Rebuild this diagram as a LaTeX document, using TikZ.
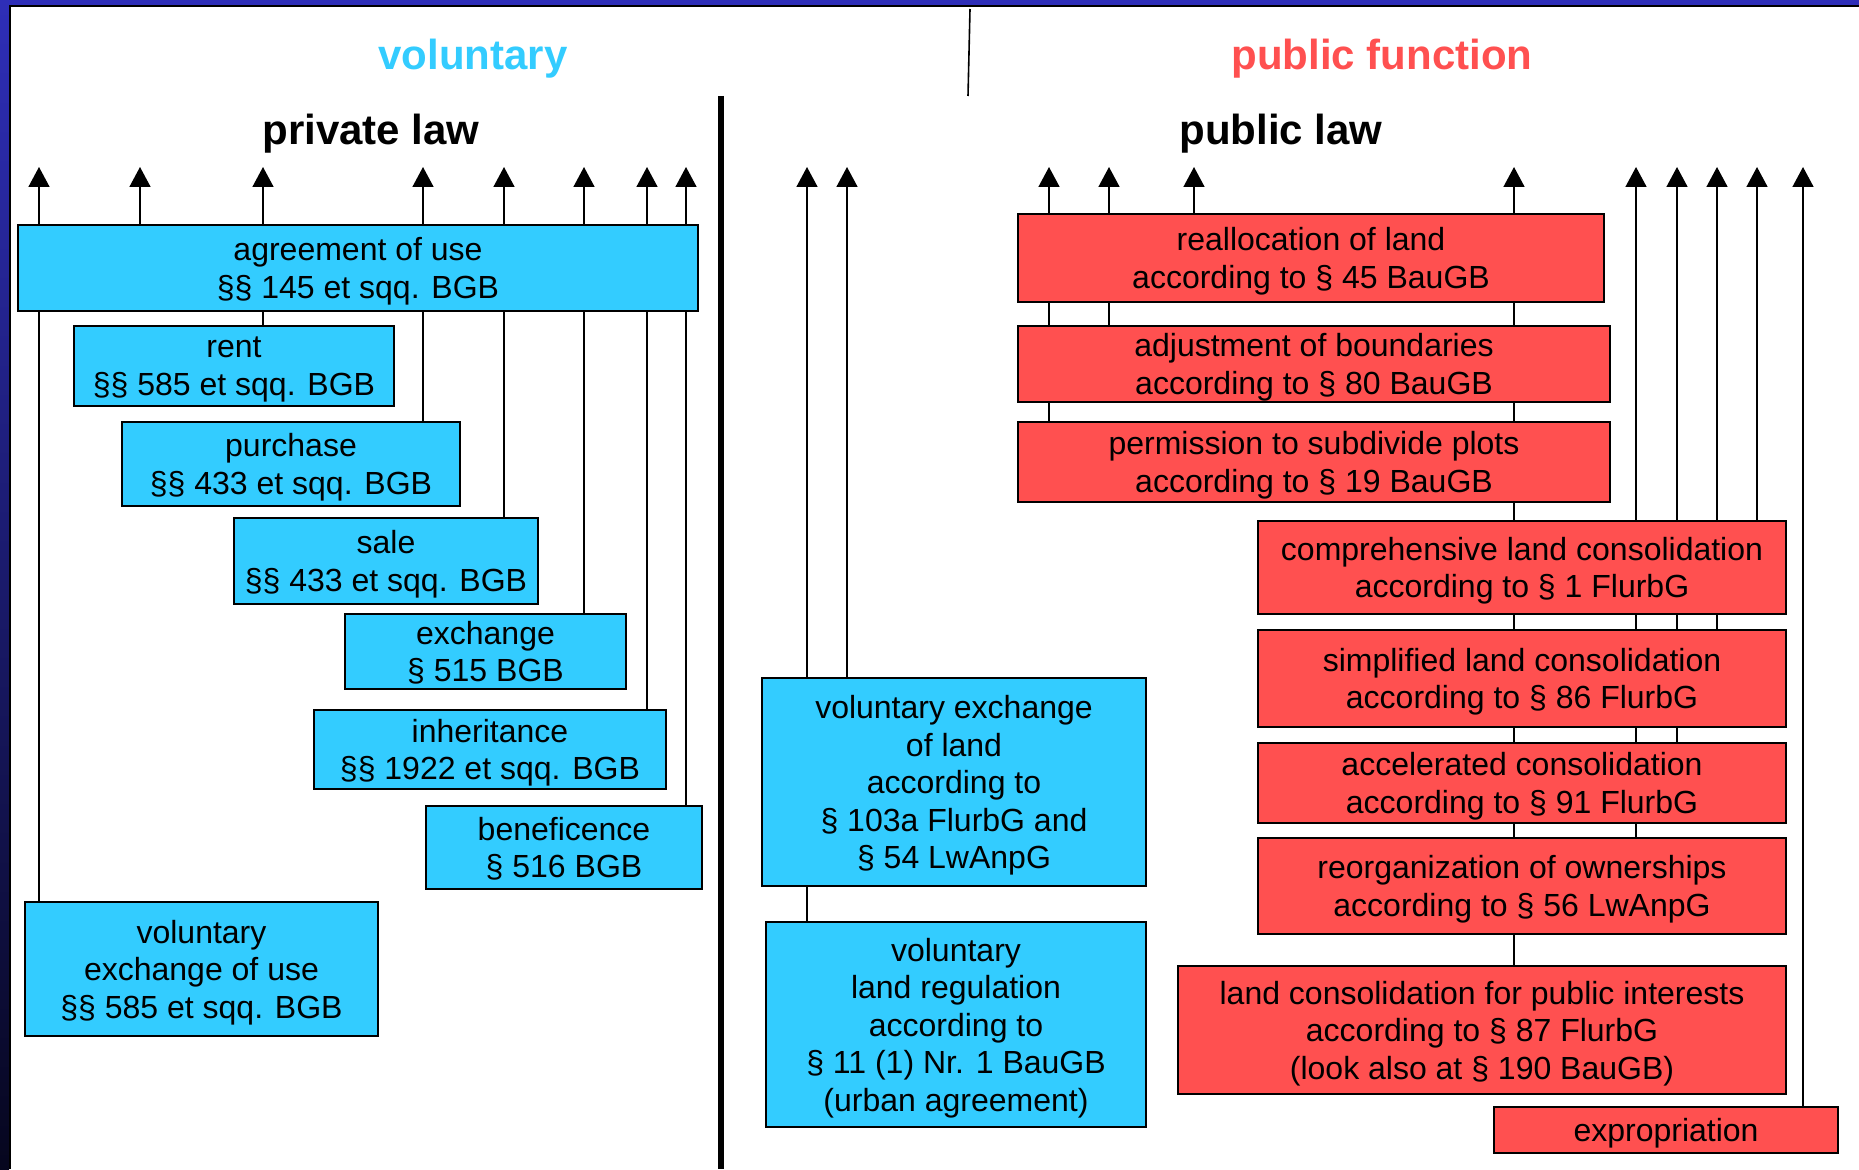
\documentclass[tikz,border=0pt]{standalone}
\usepackage{fontspec}
\setmainfont{Liberation Sans}
\usetikzlibrary{arrows.meta}
\pgfdeclarelayer{bg}
\pgfsetlayers{bg,main}
\definecolor{cyanbox}{RGB}{51,204,255}
\definecolor{redbox}{RGB}{255,80,80}
\definecolor{frameblue}{RGB}{46,46,184}
\definecolor{framedark}{RGB}{6,6,30}

\begin{document}
\begin{tikzpicture}[x=1pt,y=-1pt]
\tikzstyle{every node}=[font=\fontsize{32}{37.5}\selectfont, align=center, inner sep=0pt]
\tikzstyle{blue box}=[draw, line width=1.6pt, fill=cyanbox, text depth=0pt]
\tikzstyle{red box}=[draw, line width=1.6pt, fill=redbox, text depth=0pt]
\tikzstyle{head}=[font=\fontsize{42}{48}\selectfont\bfseries, anchor=base]
\tikzstyle{up}=[line width=1.6pt, -{Triangle[length=20pt,width=21pt]}]
\useasboundingbox (0,0) rectangle (1859,1169);
% frame of the slide
\fill[frameblue] (0,0) rectangle (1859,6);
\shade[top color=frameblue, bottom color=framedark] (0,0) rectangle (9,1169);
\draw[line width=2pt] (10,1169) -- (10,6.5) -- (1859,6.5);
% dividers
\draw[line width=6pt] (721,96) -- (721,1169);
\draw[line width=1.6pt] (970,9) -- (968,96);
% headings
\node[head, text=cyanbox] (vol) at (473,70) {voluntary};
\node[head, text=redbox] (pubf) at (1382,70) {public function};
\node[head] (priv) at (371,145) {private law};
\node[head] (publ) at (1281,145) {public law};
% private law
\node[blue box, minimum width=680pt, minimum height=86pt] (agree) at (358,268) {agreement of use\\§§ 145 et sqq. BGB};
\node[blue box, minimum width=320pt, minimum height=80pt] (rent) at (234,366) {rent\\§§ 585 et sqq. BGB};
\node[blue box, minimum width=338pt, minimum height=84pt] (purch) at (291,464) {purchase\\§§ 433 et sqq. BGB};
\node[blue box, minimum width=304pt, minimum height=86pt] (sale) at (386,561) {sale\\§§ 433 et sqq. BGB};
\node[blue box, minimum width=281pt, minimum height=75pt] (exch) at (485.5,651.5) {exchange\\§ 515 BGB};
\node[blue box, minimum width=352pt, minimum height=79pt] (inher) at (490,749.5) {inheritance\\§§ 1922 et sqq. BGB};
\node[blue box, minimum width=276pt, minimum height=83pt] (benef) at (564,847.5) {beneficence\\§ 516 BGB};
\node[blue box, minimum width=353pt, minimum height=134pt] (exuse) at (201.5,969) {voluntary\\exchange of use\\§§ 585 et sqq. BGB};
% public law, voluntary
\node[blue box, minimum width=384pt, minimum height=208pt] (land) at (954,782) {voluntary exchange\\of land\\according to\\§ 103a FlurbG and\\§ 54 LwAnpG};
\node[blue box, minimum width=380pt, minimum height=205pt] (regul) at (956,1024.5) {voluntary\\land regulation\\according to\\§ 11 (1) Nr. 1 BauGB\\(urban agreement)};
% public law, public function
\node[red box, minimum width=586pt, minimum height=88pt] (realloc) at (1311,258) {reallocation of land\\according to § 45 BauGB};
\node[red box, minimum width=592pt, minimum height=76pt] (adjust) at (1314,364) {adjustment of boundaries\\according to § 80 BauGB};
\node[red box, minimum width=592pt, minimum height=80pt] (permis) at (1314,462) {permission to subdivide plots\\according to § 19 BauGB};
\node[red box, minimum width=528pt, minimum height=93pt] (compre) at (1522,567.5) {comprehensive land consolidation\\according to § 1 FlurbG};
\node[red box, minimum width=528pt, minimum height=97pt] (simpl) at (1522,678.5) {simplified land consolidation\\according to § 86 FlurbG};
\node[red box, minimum width=528pt, minimum height=80pt] (accel) at (1522,783) {accelerated consolidation\\according to § 91 FlurbG};
\node[red box, minimum width=528pt, minimum height=96pt] (reorg) at (1522,886) {reorganization of ownerships\\according to § 56 LwAnpG};
\node[red box, minimum width=608pt, minimum height=128pt] (pubint) at (1482,1030) {land consolidation for public interests\\according to § 87 FlurbG\\(look also at § 190 BauGB)};
\node[red box, minimum width=344pt, minimum height=46pt] (expro) at (1666,1130) {expropriation};
% arrows, behind the boxes
\begin{pgfonlayer}{bg}
\foreach \src/\xpos [count=\i] in {exuse/39, agree/140, rent/263, purch/423, sale/504, exch/584, inher/647, benef/686,
    regul/807, land/847,
    permis/1049, adjust/1109, realloc/1194, pubint/1514, reorg/1636, accel/1677, simpl/1717, compre/1757, expro/1803}{
  \coordinate (tip\i) at (\xpos,167);
  \draw[up] (\src.north -| tip\i) -- (tip\i);
}
\end{pgfonlayer}
\end{tikzpicture}
\end{document}
